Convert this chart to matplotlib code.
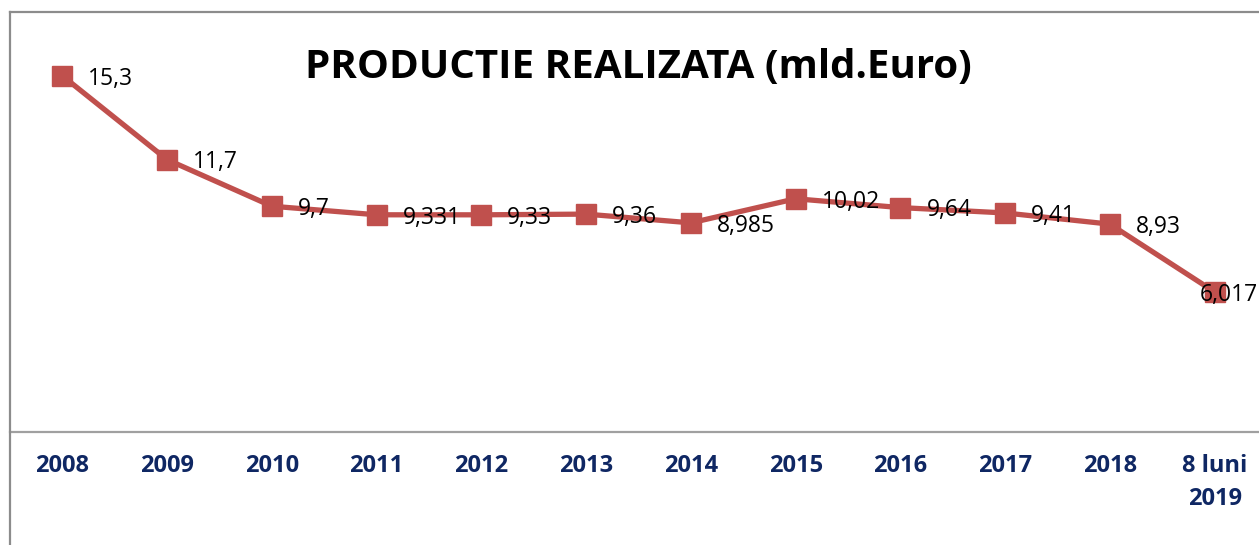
import matplotlib.pyplot as plt
from matplotlib.lines import Line2D

# -------------------- Data --------------------
categories = ['2008', '2009', '2010', '2011', '2012', '2013', '2014',
              '2015', '2016', '2017', '2018', '8 luni\n2019']
values = [15.3, 11.7, 9.7, 9.331, 9.33, 9.36, 8.985, 10.02, 9.64, 9.41, 8.93, 6.017]
value_labels = ['15,3', '11,7', '9,7', '9,331', '9,33', '9,36', '8,985',
                '10,02', '9,64', '9,41', '8,93', '6,017']

red = '#C0504D'
navy = '#0F2763'
W, H = 1259, 545

plt.rcParams['font.family'] = ['Open Sans', 'DejaVu Sans']

fig = plt.figure(figsize=(W / 100, H / 100), dpi=100)
ax = fig.add_axes([10 / W, (H - 432) / H, (1267 - 10) / W, (432 - 13) / H])

x = list(range(len(categories)))
ax.plot(x, values, color=red, lw=3.8, marker='s', markersize=14,
        markerfacecolor=red, markeredgecolor=red, clip_on=False, zorder=3)

# data labels to the right of the markers
for i, (v, lab) in enumerate(zip(values, value_labels)):
    dx = 26 if i < len(values) - 1 else -15
    ax.annotate(lab, (i, v), xytext=(dx * 0.72, -2), textcoords='offset points',
                ha='left', va='center', fontsize=16.5, color='black',
                annotation_clip=False, zorder=4)

ax.set_xlim(-0.5, len(categories) - 0.5)
ax.set_ylim(0, 18)
ax.set_yticks([])
ax.set_xticks(x)
ax.set_xticklabels(categories, fontsize=17, fontweight='bold', color=navy,
                   linespacing=1.5, va='top')
ax.tick_params(axis='x', length=0, pad=16)
for s in ['left', 'right', 'top']:
    ax.spines[s].set_visible(False)
ax.spines['bottom'].set_color('#A0A0A0')
ax.spines['bottom'].set_linewidth(1.6)

fig.text(638 / W, (H - 68) / H, 'PRODUCTIE REALIZATA (mld.Euro)', fontsize=29,
         fontweight='bold', color='black', ha='center', va='center')

# chart border (left and top)
fig.add_artist(Line2D([10 / W, 10 / W], [0, (H - 12) / H], color='#8C8C8C', lw=1.6))
fig.add_artist(Line2D([10 / W, 1], [(H - 12) / H, (H - 12) / H], color='#8C8C8C', lw=1.6))

fig.savefig('out.png', dpi=100)
